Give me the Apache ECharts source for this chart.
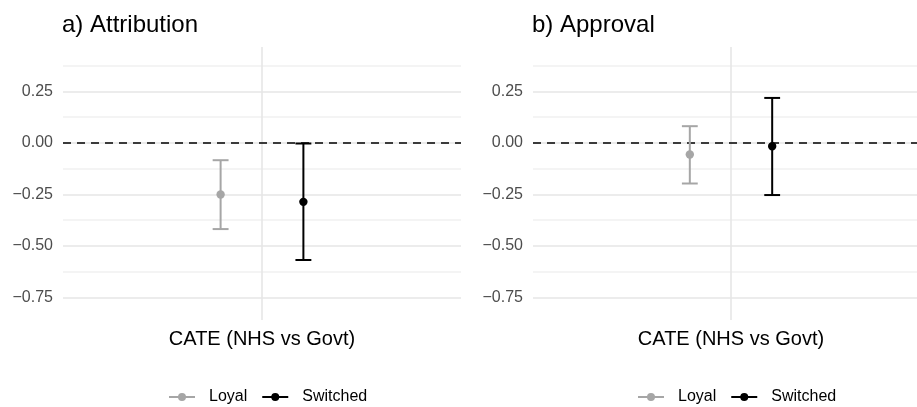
<!DOCTYPE html>
<html>
<head>
<meta charset="utf-8">
<script src="https://cdn.jsdelivr.net/npm/echarts@6/dist/echarts.min.js"></script>
<style>
html,body{margin:0;padding:0;background:#fff;overflow:hidden;width:917px;height:407px;}
#chart{width:930px;height:407px;}
</style>
</head>
<body>
<div id="chart"></div>
<script>
// ---- data ----
const categories = ['CATE (NHS vs Govt)'];
const groups = ['Loyal', 'Switched'];
const panelTitles = ['a) Attribution', 'b) Approval'];
// estimates, lower and upper CI bounds (Loyal, Switched)
const attributionEst  = [-0.250, -0.286];
const attributionLow  = [-0.418, -0.568];
const attributionHigh = [-0.084, -0.003];
const approvalEst  = [-0.056, -0.016];
const approvalLow  = [-0.197, -0.253];
const approvalHigh = [ 0.081,  0.218];
const yTickLabels = [-0.75, -0.5, -0.25, 0, 0.25];
const yMin = -0.859, yMax = 0.465;

// ---- styles ----
const groupColors = ['#A6A6A6', '#000000'];
const FONT = '"Liberation Sans", Arial, Helvetica, sans-serif';

function fmt(v) {
  const s = Math.abs(v).toFixed(2);
  return v < 0 ? '\u2212' + s : s;
}

const panels = [
  {est: attributionEst, low: attributionLow, high: attributionHigh},
  {est: approvalEst, low: approvalLow, high: approvalHigh}
];
const grids = [
  {left: 63, width: 398, top: 47, bottom: 87, outerBoundsMode: 'none'},
  {left: 533, width: 396, top: 47, bottom: 87, outerBoundsMode: 'none'}
];
const legendLeft = [169, 638];

const legendIcon = 'path://M0 4 L9.5 4 L9.5 6 L0 6 Z M16.5 4 L26 4 L26 6 L16.5 6 Z M9 5 A4 4 0 1 1 17 5 A4 4 0 1 1 9 5 Z';

function makeRender(groupIndex) {
  const dodge = groupIndex === 0 ? -0.104 : 0.104;
  return function (params, api) {
    const xi = api.value(0);
    const band = api.size([1, 0])[0];
    const c = api.coord([xi, api.value(1)]);
    const lo = api.coord([xi, api.value(2)]);
    const hi = api.coord([xi, api.value(3)]);
    const x = c[0] + band * dodge;
    const cap = band * 0.02;
    const color = api.visual('color');
    const ls = {stroke: color, lineWidth: 2};
    return {
      type: 'group',
      children: [
        {type: 'line', shape: {x1: x, y1: hi[1], x2: x, y2: lo[1]}, style: ls},
        {type: 'line', shape: {x1: x - cap, y1: hi[1], x2: x + cap, y2: hi[1]}, style: ls},
        {type: 'line', shape: {x1: x - cap, y1: lo[1], x2: x + cap, y2: lo[1]}, style: ls},
        {type: 'circle', shape: {cx: x, cy: c[1], r: 4.2}, style: {fill: color}}
      ]
    };
  };
}

const option = {
  animation: false,
  backgroundColor: '#ffffff',
  textStyle: {fontFamily: FONT},
  title: panelTitles.map((t, i) => ({
    text: t, left: grids[i].left - 1, top: 13, padding: 0,
    textStyle: {fontSize: 24, fontWeight: 'normal', color: '#000', fontFamily: FONT}
  })),
  legend: [0, 1].map(i => ({
    left: legendLeft[i], top: 389, orient: 'horizontal',
    itemWidth: 26, itemHeight: 8, itemGap: 15, padding: 0,
    icon: legendIcon,
    selectedMode: false,
    textStyle: {fontSize: 16, color: '#000', fontFamily: FONT, padding: [0, 0, 0, 9]},
    data: groups.map((g, k) => ({name: g, itemStyle: {color: groupColors[k]}}))
  })),
  grid: grids,
  xAxis: grids.map((g, i) => ({
    type: 'category', gridIndex: i, data: categories, boundaryGap: true,
    axisLine: {show: false}, axisTick: {show: false}, splitLine: {show: false},
    axisLabel: {fontSize: 20, color: '#000', margin: 9, fontFamily: FONT}
  })),
  yAxis: grids.map((g, i) => ({
    type: 'value', gridIndex: i, min: yMin, max: yMax,
    minInterval: 0.125, maxInterval: 0.125,
    axisLine: {show: false}, axisTick: {show: false},
    axisLabel: {
      fontSize: 16, color: '#4D4D4D', margin: 10, fontFamily: FONT,
      formatter: v => yTickLabels.some(t => Math.abs(t - v) < 1e-6) ? fmt(v) : ''
    },
    splitLine: {show: true, showMinLine: false, showMaxLine: false,
      lineStyle: {color: ['#E6E6E6', '#F0F0F0'], width: 1.6}}
  })),
  series: []
};

panels.forEach((p, pi) => {
  groups.forEach((g, gi) => {
    const s = {
      type: 'custom', name: g, xAxisIndex: pi, yAxisIndex: pi,
      itemStyle: {color: groupColors[gi]},
      encode: {x: 0, y: [1, 2, 3]},
      data: [[0, p.est[gi], p.low[gi], p.high[gi]]],
      renderItem: makeRender(gi),
      z: 3
    };
    if (gi === 0) {
      s.markLine = {
        silent: true, symbol: 'none', z: 1, animation: false,
        label: {show: false},
        data: [
          {xAxis: 0, lineStyle: {color: '#E6E6E6', width: 1.6, type: 'solid'}},
          {yAxis: 0, lineStyle: {color: '#000', width: 1.6, type: [8, 6]}}
        ]
      };
    }
    option.series.push(s);
  });
});

const chart = echarts.init(document.getElementById('chart'), null, {renderer: 'canvas'});
chart.setOption(option);
</script>
</body>
</html>
